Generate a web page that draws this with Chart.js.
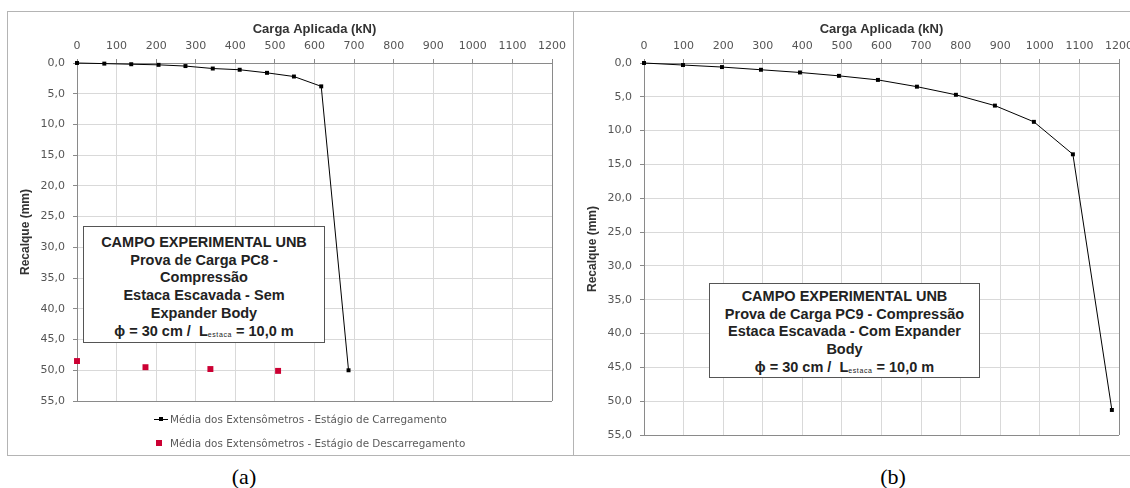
<!DOCTYPE html>
<html>
<head>
<meta charset="utf-8">
<script src="https://cdn.jsdelivr.net/npm/chart.js@4.4.1/dist/chart.umd.min.js"></script>
<style>
    html, body { margin: 0; padding: 0; background: #fff; width: 1130px; height: 488px; overflow: hidden; position: relative; font-family: "Liberation Sans", Arial, sans-serif; }
    .frame { position: absolute; border: 1.5px solid #b4b4b4; box-sizing: border-box; }
    canvas { position: absolute; }
    .note { position: absolute; background: #fff; border: 1.5px solid #555; box-sizing: border-box; text-align: center; font-weight: bold; font-size: 14.5px; line-height: 17.7px; color: #222; white-space: nowrap; }
    .note sub { font-size: 7px; font-weight: normal; vertical-align: -1px; letter-spacing: 0.6px; }
    .legend { position: absolute; font-family: "DejaVu Sans", sans-serif; font-size: 10.4px; color: #5a5a5a; white-space: nowrap; line-height: 12px; }
    .caption { position: absolute; font-family: "Liberation Serif", "Times New Roman", serif; font-size: 22px; color: #000; transform: translate(-50%, -50%); }
</style>
</head>
<body>

<div class="frame" style="left:7px; top:11px; width:567px; height:445px;"></div>
<div class="frame" style="left:573px; top:11px; width:620px; height:445px;"></div>

<canvas id="chartA" width="564" height="443" style="left:8px; top:12px;"></canvas>
<canvas id="chartB" width="600" height="443" style="left:575px; top:12px;"></canvas>

<div class="note" style="left:83px; top:226px; width:242px; height:117px; padding-top:7px;">
    <div>CAMPO EXPERIMENTAL UNB</div>
    <div>Prova de Carga PC8 -</div>
    <div>Compressão</div>
    <div>Estaca Escavada - Sem</div>
    <div>Expander Body</div>
    <div>ϕ = 30 cm /&nbsp; L<sub>estaca</sub> = 10,0 m</div>
</div>

<div class="note" style="left:709px; top:283px; width:271px; height:95px; padding-top:4px;">
    <div>CAMPO EXPERIMENTAL UNB</div>
    <div>Prova de Carga PC9 - Compressão</div>
    <div>Estaca Escavada - Com Expander</div>
    <div>Body</div>
    <div>ϕ = 30 cm /&nbsp; L<sub>estaca</sub> = 10,0 m</div>
</div>

<!-- legend of chart (a) -->
<div style="position:absolute; left:154px; top:418.5px; width:14px; height:1px; background:#000;"></div>
<div style="position:absolute; left:159px; top:417px; width:4px; height:4px; background:#000;"></div>
<div class="legend" style="left:170px; top:413px;">Média dos Extensômetros - Estágio de Carregamento</div>
<div style="position:absolute; left:156px; top:440px; width:6px; height:6px; background:#cc0033;"></div>
<div class="legend" style="left:170px; top:437px;">Média dos Extensômetros - Estágio de Descarregamento</div>

<div class="caption" style="left:244px; top:477px;">(a)</div>
<div class="caption" style="left:893px; top:477px;">(b)</div>

<script>
// PC8 - sem Expander Body
const loadA = [0, 69, 137, 206, 274, 343, 411, 480, 548, 617, 686];
const settleA = [0, 0.1, 0.2, 0.3, 0.5, 0.9, 1.1, 1.6, 2.2, 3.8, 50.0];
const unloadA = [0, 173, 337, 508];
const unloadSettleA = [48.5, 49.5, 49.8, 50.1];

// PC9 - com Expander Body
const loadB = [0, 98.5, 197, 295.5, 394, 492.5, 591, 689.5, 788, 886.5, 985, 1083.5, 1182];
const settleB = [0, 0.3, 0.6, 1.0, 1.4, 1.9, 2.5, 3.5, 4.7, 6.3, 8.7, 13.5, 51.3];

// axis ranges / tick steps
const X_MAX = 1200, X_STEP = 100;
const Y_MAX = 55, Y_STEP = 5;

const GRID = '#d9d9d9';
const EDGE = '#8a8a8a';

function toPoints(xs, ys) {
    return xs.map((x, i) => ({ x, y: ys[i] }));
}

function loadingSet(xs, ys) {
    return {
        label: 'Média dos Extensômetros - Estágio de Carregamento',
        data: toPoints(xs, ys),
        showLine: true,
        clip: false,
        borderColor: '#000',
        borderWidth: 1,
        pointStyle: 'rect',
        pointRadius: 2.8,
        pointBackgroundColor: '#000',
        pointBorderWidth: 0,
    };
}

function buildChart(id, datasets, box) {
    return new Chart(document.getElementById(id), {
        type: 'scatter',
        data: { datasets },
        options: {
            responsive: false,
            animation: false,
            layout: { padding: { left: 0, top: 0, right: box.padRight, bottom: box.padBottom } },
            plugins: { legend: { display: false }, tooltip: { enabled: false } },
            scales: {
                x: {
                    type: 'linear',
                    position: 'top',
                    min: 0, max: X_MAX,
                    afterFit: s => { s.height = box.top; },
                    border: { color: EDGE, width: 1 },
                    grid: {
                        color: ctx => ctx.tick && ctx.tick.value === X_MAX ? EDGE : GRID,
                        tickLength: 4,
                        tickColor: EDGE,
                    },
                    ticks: {
                        stepSize: X_STEP,
                        padding: 6,
                        color: '#555',
                        font: { family: 'DejaVu Sans', size: 11 },
                        maxRotation: 0,
                        autoSkip: false,
                        callback: v => String(v),
                    },
                    title: {
                        display: true,
                        text: 'Carga Aplicada (kN)',
                        color: '#333',
                        font: { family: 'Liberation Sans', size: 13, weight: 'bold' },
                        padding: { top: 10, bottom: 0 },
                    }
                },
                y: {
                    type: 'linear',
                    reverse: true,
                    min: 0, max: Y_MAX,
                    afterFit: s => { s.width = box.left; },
                    border: { color: EDGE, width: 1 },
                    grid: {
                        color: ctx => ctx.tick && ctx.tick.value === Y_MAX ? EDGE : GRID,
                        tickLength: 4,
                        tickColor: EDGE,
                    },
                    ticks: {
                        stepSize: Y_STEP,
                        padding: 8,
                        color: '#555',
                        font: { family: 'DejaVu Sans', size: 11 },
                        callback: v => v.toFixed(1).replace('.', ','),
                    },
                    title: {
                        display: true,
                        text: 'Recalque (mm)',
                        color: '#333',
                        font: { family: 'Liberation Sans', size: 12, weight: 'bold' },
                        padding: { top: 10, bottom: 0 },
                    }
                }
            }
        }
    });
}

// (a) plot area: 77..553 x 63..401 on the page
buildChart('chartA', [
    loadingSet(loadA, settleA),
    {
        label: 'Média dos Extensômetros - Estágio de Descarregamento',
        data: toPoints(unloadA, unloadSettleA),
        showLine: false,
        clip: false,
        pointStyle: 'rect',
        pointRadius: 4.2,
        pointBackgroundColor: '#cc0033',
        pointBorderWidth: 0,
    }
], { left: 69, top: 51, padRight: 19, padBottom: 54 });

// (b) plot area: 644..1119 x 63..435 on the page
buildChart('chartB', [
    loadingSet(loadB, settleB)
], { left: 69, top: 51, padRight: 56, padBottom: 20 });
</script>
</body>
</html>
